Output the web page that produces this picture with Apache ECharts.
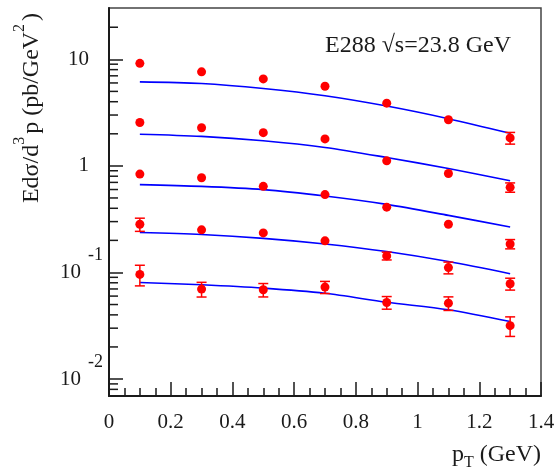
<!DOCTYPE html>
<html><head><meta charset="utf-8">
<script src="https://cdn.jsdelivr.net/npm/echarts@6/dist/echarts.min.js"></script>
<style>html,body{margin:0;padding:0;background:#fff}#c{width:558px;height:471px}</style>
</head><body><div id="c"></div>
<script>
// ---- data ----
const pT = [0.1, 0.3, 0.5, 0.7, 0.9, 1.1, 1.3];

const data1 = [9.17, 7.63, 6.55, 5.59, 3.88, 2.71, 1.83];
const data2 = [2.55, 2.28, 2.05, 1.79, 1.115, 0.848, 0.629];
const data3 = [0.837, 0.774, 0.643, 0.538, 0.410, 0.283, 0.185];
const data4 = [0.283, 0.251, 0.235, 0.198, 0.143, 0.111, 0.0783];
const data5 = [0.0958, 0.0698, 0.0688, 0.0729, 0.0523, 0.0515, 0.0317];

const err1 = [0, 0, 0, 0, 0, 0, 0.23];
const err2 = [0, 0, 0, 0, 0, 0, 0.063];
const err3 = [0, 0, 0, 0, 0, 0, 0.0185];
const err4 = [0.040, 0, 0, 0, 0.012, 0.014, 0.010];
const err5 = [0.021, 0.011, 0.0099, 0.0095, 0.0071, 0.0075, 0.0066];

const fit1 = [6.14, 5.93, 5.32, 4.55, 3.64, 2.77, 2.02];
const fit2 = [1.98, 1.89, 1.72, 1.49, 1.20, 0.944, 0.726];
const fit3 = [0.667, 0.642, 0.599, 0.521, 0.435, 0.343, 0.267];
const fit4 = [0.237, 0.227, 0.209, 0.185, 0.157, 0.1265, 0.0972];
const fit5 = [0.0805, 0.0766, 0.0713, 0.0637, 0.0525, 0.0446, 0.0346];

const yMajorTicks = [0.01, 0.1, 1, 10];
const yMinorTicks = [0.008, 0.009,
  0.02, 0.03, 0.04, 0.05, 0.06, 0.07, 0.08, 0.09,
  0.2, 0.3, 0.4, 0.5, 0.6, 0.7, 0.8, 0.9,
  2, 3, 4, 5, 6, 7, 8, 9, 20];

const annotation = 'E288 \u221As=23.8 GeV';

// ---- chart ----
const FONT = 'Liberation Serif';
const INK = '#1a1a1a';
const Y_MIN = 0.00693, Y_MAX = 30.3;

const rows = [
  [data1, err1, fit1], [data2, err2, fit2], [data3, err3, fit3],
  [data4, err4, fit4], [data5, err5, fit5]
];

const series = [];
rows.forEach(function (r) {
  series.push({
    type: 'line', xAxisIndex: 0, yAxisIndex: 0,
    data: pT.map(function (x, i) { return [x, r[2][i]]; }),
    smooth: 0.3, symbol: 'none', showSymbol: false,
    lineStyle: { color: '#0000ff', width: 1.6 }, z: 2, silent: true
  });
});
rows.forEach(function (r) {
  series.push({
    type: 'custom', xAxisIndex: 0, yAxisIndex: 0,
    data: pT.map(function (x, i) { return [x, r[0][i], r[1][i]]; }),
    encode: { x: 0, y: 1 },
    renderItem: function (params, api) {
      const x = api.value(0), y = api.value(1), e = api.value(2);
      if (!e) return null;
      const top = api.coord([x, y + e]);
      const bot = api.coord([x, y - e]);
      const hw = 5;
      const st = { stroke: '#ff0000', lineWidth: 1.5 };
      return { type: 'group', children: [
        { type: 'line', shape: { x1: top[0], y1: top[1], x2: bot[0], y2: bot[1] }, style: st },
        { type: 'line', shape: { x1: top[0] - hw, y1: top[1], x2: top[0] + hw, y2: top[1] }, style: st },
        { type: 'line', shape: { x1: bot[0] - hw, y1: bot[1], x2: bot[0] + hw, y2: bot[1] }, style: st }
      ]};
    },
    z: 3, silent: true
  });
});
rows.forEach(function (r) {
  series.push({
    type: 'scatter', xAxisIndex: 0, yAxisIndex: 0,
    data: pT.map(function (x, i) { return [x, r[0][i]]; }),
    symbol: 'circle', symbolSize: 9,
    itemStyle: { color: '#ff0000', opacity: 1 }, z: 4, silent: true
  });
});

const textGraphics = [
  { type: 'text', x: 32, y: 108, rotation: Math.PI / 2, silent: true,
    style: {
      text: '{a|Ed\u03C3/d}{s|3}{a|p (pb/GeV}{s|2}{a|)}',
      align: 'center', verticalAlign: 'middle',
      rich: {
        a: { fontFamily: FONT, fontSize: 24, fill: INK },
        s: { fontFamily: FONT, fontSize: 16, fill: INK, padding: [0, 3, 24, 0] }
      }
    } },
  { type: 'text', x: 325, y: 46, silent: true,
    style: { text: annotation, fontFamily: FONT, fontSize: 24, fill: INK,
             align: 'left', verticalAlign: 'middle' } },
  { type: 'text', x: 541, y: 455, silent: true,
    style: {
      text: '{a|p}{t|T}{a| (GeV)}',
      align: 'right', verticalAlign: 'middle',
      rich: {
        a: { fontFamily: FONT, fontSize: 24, fill: INK },
        t: { fontFamily: FONT, fontSize: 16, fill: INK, padding: [16, 0, 0, 0] }
      }
    } }
];

const chart = echarts.init(document.getElementById('c'), null, { renderer: 'canvas' });
chart.setOption({
  animation: false,
  backgroundColor: '#ffffff',
  grid: { left: 109, right: 17, top: 8, bottom: 75, show: true,
          borderColor: '#444', borderWidth: 1.5, backgroundColor: 'transparent' },
  xAxis: {
    type: 'value', min: 0, max: 1.4, interval: 0.2,
    axisLine: { lineStyle: { color: INK, width: 2 } },
    axisTick: { inside: true, length: 14, lineStyle: { color: INK, width: 1.5 } },
    minorTick: { show: true, splitNumber: 4, length: 8, lineStyle: { color: INK, width: 1.5 } },
    axisLabel: { fontFamily: FONT, fontSize: 21, color: INK, margin: 16 },
    splitLine: { show: false }, minorSplitLine: { show: false }
  },
  yAxis: {
    type: 'log', logBase: 10, min: Y_MIN, max: Y_MAX, position: 'left',
    axisLine: { show: true, lineStyle: { color: INK, width: 2 } },
    axisTick: { show: true, inside: true, length: 14, customValues: yMajorTicks,
                lineStyle: { color: INK, width: 1.5 } },
    axisLabel: {
      customValues: yMajorTicks, margin: 6,
      formatter: function (v) {
        const e = Math.round(Math.log10(v));
        if (e === 1) return '{n|10}';
        if (e === 0) return '{n|1}';
        return '{b|10}{s|' + e + '}';
      },
      rich: {
        n: { fontFamily: FONT, fontSize: 21, color: INK, padding: [0, 14, 0, 0] },
        b: { fontFamily: FONT, fontSize: 21, color: INK },
        s: { fontFamily: FONT, fontSize: 18, color: INK, padding: [0, 0, 34, 7] }
      }
    },
    splitLine: { show: false }
  },
  graphic: textGraphics,
  series: series
});

// minor ticks of the log y axis, positioned through the axis scale
const gx = chart.convertToPixel({ xAxisIndex: 0 }, 0);
const minorGraphics = yMinorTicks.map(function (v) {
  const py = chart.convertToPixel({ yAxisIndex: 0 }, v);
  return { type: 'line', silent: true, z: 50,
           shape: { x1: gx, y1: py, x2: gx + 9, y2: py },
           style: { stroke: INK, lineWidth: 1.5 } };
});
chart.setOption({ graphic: textGraphics.concat(minorGraphics) });
</script>
</body></html>
